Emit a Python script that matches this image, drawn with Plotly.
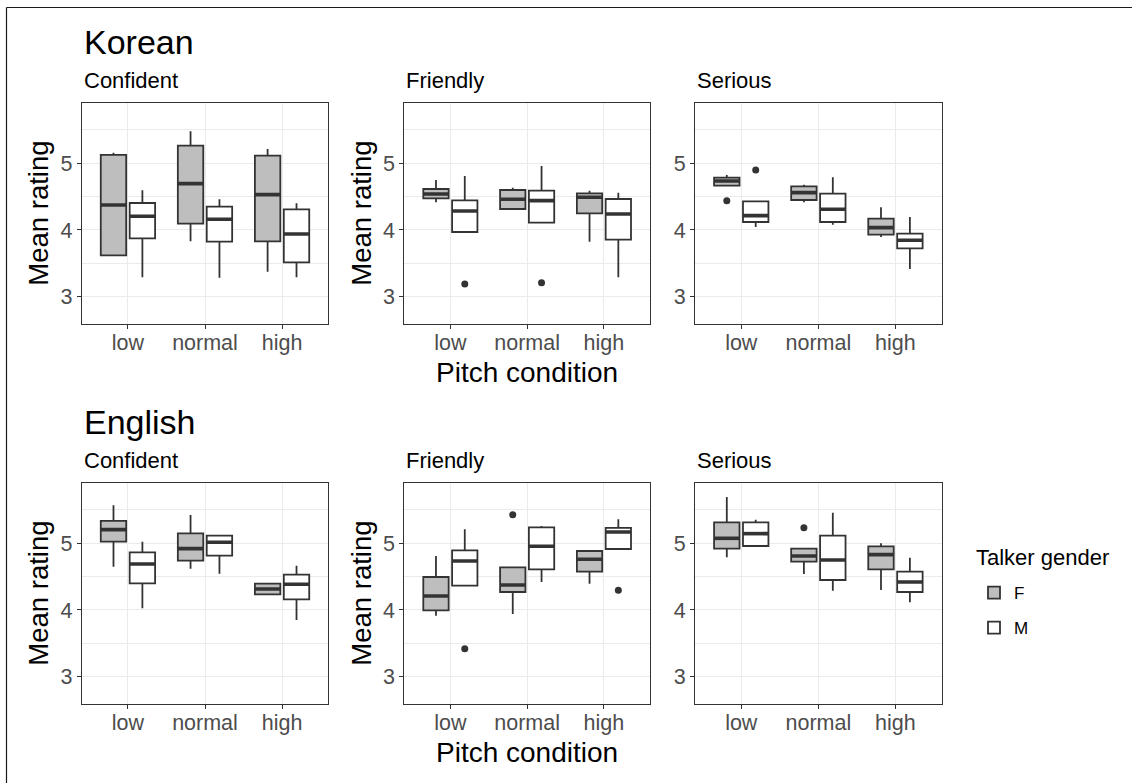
import plotly.graph_objects as go

# ---------------- data ----------------
conditions = ["low", "normal", "high"]
genders = ["F", "M"]
traits = ["Confident", "Friendly", "Serious"]
languages = ["Korean", "English"]

# each entry per condition: (lower whisker, Q1, median, Q3, upper whisker)
korean_confident_F = [(3.62, 3.62, 4.375, 5.125, 5.16), (3.83, 4.095, 4.695, 5.265, 5.48), (3.375, 3.83, 4.53, 5.115, 5.215)]
korean_confident_M = [(3.29, 3.875, 4.205, 4.405, 4.595), (3.285, 3.825, 4.16, 4.35, 4.46), (3.29, 3.515, 3.94, 4.31, 4.40)]
korean_friendly_F = [(4.415, 4.475, 4.54, 4.615, 4.75), (4.315, 4.315, 4.46, 4.60, 4.635), (3.825, 4.25, 4.49, 4.55, 4.59)]
korean_friendly_M = [(3.97, 3.97, 4.285, 4.445, 4.81), (4.11, 4.11, 4.44, 4.59, 4.96), (3.29, 3.855, 4.24, 4.465, 4.56)]
korean_serious_F = [(4.665, 4.665, 4.735, 4.785, 4.825), (4.415, 4.45, 4.56, 4.655, 4.68), (3.895, 3.93, 4.035, 4.17, 4.34)]
korean_serious_M = [(4.045, 4.12, 4.215, 4.43, 4.43), (4.08, 4.12, 4.31, 4.545, 4.79), (3.415, 3.725, 3.845, 3.945, 4.195)]
english_confident_F = [(4.65, 5.025, 5.205, 5.335, 5.57), (4.62, 4.74, 4.92, 5.15, 5.425), (4.235, 4.235, 4.315, 4.395, 4.395)]
english_confident_M = [(4.025, 4.40, 4.69, 4.865, 5.025), (4.545, 4.815, 5.015, 5.115, 5.115), (3.85, 4.16, 4.385, 4.53, 4.665)]
english_friendly_F = [(3.915, 3.995, 4.21, 4.495, 4.81), (3.94, 4.27, 4.375, 4.64, 4.64), (4.395, 4.575, 4.76, 4.885, 4.885)]
english_friendly_M = [(4.365, 4.365, 4.735, 4.895, 5.21), (4.42, 4.61, 4.955, 5.24, 5.26), (4.915, 4.915, 5.17, 5.23, 5.36)]
english_serious_F = [(4.79, 4.92, 5.075, 5.315, 5.695), (4.54, 4.725, 4.81, 4.92, 4.92), (4.30, 4.61, 4.83, 4.955, 5.00)]
english_serious_M = [(4.96, 4.96, 5.145, 5.315, 5.355), (4.29, 4.45, 4.75, 5.115, 5.46), (4.115, 4.27, 4.42, 4.575, 4.785)]

# outliers: (condition, gender, value)
korean_confident_out = []
korean_friendly_out = [("low", "M", 3.19), ("normal", "M", 3.21)]
korean_serious_out = [("low", "F", 4.44), ("low", "M", 4.90)]
english_confident_out = []
english_friendly_out = [("low", "M", 3.42), ("normal", "F", 5.43), ("high", "M", 4.295)]
english_serious_out = [("normal", "F", 5.235)]

y_ticks = [3, 4, 5]
y_minor = [3.5, 4.5, 5.5]

panels = {
    ("Korean", "Confident"): (korean_confident_F, korean_confident_M, korean_confident_out),
    ("Korean", "Friendly"): (korean_friendly_F, korean_friendly_M, korean_friendly_out),
    ("Korean", "Serious"): (korean_serious_F, korean_serious_M, korean_serious_out),
    ("English", "Confident"): (english_confident_F, english_confident_M, english_confident_out),
    ("English", "Friendly"): (english_friendly_F, english_friendly_M, english_friendly_out),
    ("English", "Serious"): (english_serious_F, english_serious_M, english_serious_out),
}

# ---------------- layout / style ----------------
W, H = 1132, 783
FONT = "Liberation Sans, Arial, sans-serif"
LINE = "#333333"
GRID = "#EBEBEB"
TICKC = "#4D4D4D"
FILL = {"F": "#BEBEBE", "M": "#FFFFFF"}
DODGE = 0.1875
BOXW = 0.33

col_px = [(81.7, 328.3), (404.3, 650.0), (695.0, 941.7)]
row_px = [(103.3, 324.0), (483.3, 704.0)]

def px_x(p):
    return p / W

def px_y(p):
    return 1 - p / H

fig = go.Figure()
layout_axes = {}
annotations = []

idx = 0
for r, lang in enumerate(languages):
    for c, trait in enumerate(traits):
        idx += 1
        xa = "x" if idx == 1 else f"x{idx}"
        ya = "y" if idx == 1 else f"y{idx}"
        dataF, dataM, outs = panels[(lang, trait)]
        med_x, med_y = [], []
        for g, data in zip(genders, (dataF, dataM)):
            off = -DODGE if g == "F" else DODGE
            xs = [i + 1 + off for i in range(len(conditions))]
            fig.add_trace(go.Box(
                x=xs,
                lowerfence=[d[0] for d in data],
                q1=[d[1] for d in data],
                median=[d[2] for d in data],
                q3=[d[3] for d in data],
                upperfence=[d[4] for d in data],
                width=BOXW,
                fillcolor=FILL[g],
                line=dict(color=LINE, width=1.8),
                whiskerwidth=0,
                boxpoints=False,
                name=g,
                legendgroup=g,
                showlegend=(idx == 1),
                hoverinfo="skip",
                xaxis=xa, yaxis=ya,
            ))
            for xv, d in zip(xs, data):
                med_x += [xv - BOXW / 2, xv + BOXW / 2, None]
                med_y += [d[2], d[2], None]
        fig.add_trace(go.Scatter(x=med_x, y=med_y, mode="lines",
                                 line=dict(color=LINE, width=3.6),
                                 showlegend=False, hoverinfo="skip",
                                 xaxis=xa, yaxis=ya))
        if outs:
            ox = [conditions.index(cn) + 1 + (-DODGE if g == "F" else DODGE) for cn, g, v in outs]
            oy = [v for cn, g, v in outs]
            fig.add_trace(go.Scatter(x=ox, y=oy, mode="markers",
                                     marker=dict(color=LINE, size=7),
                                     showlegend=False, hoverinfo="skip",
                                     xaxis=xa, yaxis=ya))

        x0, x1 = col_px[c]
        y0, y1 = row_px[r]
        xkey = "xaxis" if idx == 1 else f"xaxis{idx}"
        ykey = "yaxis" if idx == 1 else f"yaxis{idx}"
        layout_axes[xkey] = dict(
            domain=[px_x(x0), px_x(x1)], anchor=ya, range=[0.4, 3.6],
            tickvals=[1, 2, 3], ticktext=conditions,
            ticks="outside", ticklen=4, tickwidth=1, tickcolor=LINE,
            tickfont=dict(size=21.5, color=TICKC, family=FONT),
            ticklabelstandoff=-5,
            showgrid=True, gridcolor=GRID, gridwidth=1, zeroline=False,
            showline=True, mirror=True, linecolor=LINE, linewidth=1,
        )
        layout_axes[ykey] = dict(
            domain=[px_y(y1), px_y(y0)], anchor=xa, range=[2.59, 5.9],
            tickvals=y_ticks, ticks="outside", ticklen=4, tickwidth=1, tickcolor=LINE,
            tickfont=dict(size=21.5, color=TICKC, family=FONT),
            showgrid=True, gridcolor=GRID, gridwidth=1, zeroline=False,
            showline=True, mirror=True, linecolor=LINE, linewidth=1,
            minor=dict(tickvals=y_minor, showgrid=True, gridcolor=GRID, gridwidth=0.6, ticks=""),
        )
        # facet subtitle
        annotations.append(dict(text=trait, x=px_x(x0), y=px_y(y0 - 22.5), xref="paper", yref="paper",
                                xanchor="left", yanchor="middle", showarrow=False,
                                font=dict(size=22, color="#000000", family=FONT)))
        # y-axis title on first two columns
        if c < 2:
            tx = 39 if c == 0 else 362
            annotations.append(dict(text="Mean rating", x=px_x(tx), y=px_y((y0 + y1) / 2),
                                    xref="paper", yref="paper", textangle=-90,
                                    xanchor="center", yanchor="middle", showarrow=False,
                                    font=dict(size=27.5, color="#000000", family=FONT)))
        # x-axis title on middle column
        if c == 1:
            annotations.append(dict(text="Pitch condition", x=px_x((x0 + x1) / 2), y=px_y(y1 + 48.5),
                                    xref="paper", yref="paper", xanchor="center", yanchor="middle",
                                    showarrow=False, font=dict(size=28, color="#000000", family=FONT)))
    # language title
    annotations.append(dict(text=lang, x=px_x(81.7), y=px_y(row_px[r][0] - 61.8), xref="paper", yref="paper",
                            xanchor="left", yanchor="middle", showarrow=False,
                            font=dict(size=34, color="#000000", family=FONT)))

# legend title
annotations.append(dict(text="Talker gender", x=px_x(974), y=px_y(557), xref="paper", yref="paper",
                        xanchor="left", yanchor="middle", showarrow=False,
                        font=dict(size=22, color="#000000", family=FONT)))

shapes = [
    dict(type="line", xref="paper", yref="paper", x0=px_x(6.5), x1=1.0, y0=px_y(7.5), y1=px_y(7.5),
         line=dict(color="#1A1A1A", width=1.2)),
    dict(type="line", xref="paper", yref="paper", x0=px_x(6.5), x1=px_x(6.5), y0=px_y(7.5), y1=0.0,
         line=dict(color="#1A1A1A", width=1.2)),
]

fig.update_layout(
    width=W, height=H, margin=dict(l=0, r=0, t=0, b=0),
    paper_bgcolor="white", plot_bgcolor="white",
    font=dict(family=FONT, color="#000000"),
    annotations=annotations, shapes=shapes,
    legend=dict(
        font=dict(size=17, family=FONT, color="#000000"),
        x=px_x(974), y=px_y(575), xanchor="left", yanchor="top",
        tracegroupgap=10, bgcolor="rgba(0,0,0,0)",
    ),
    **layout_axes,
)

fig.write_html("out.html", config={"displayModeBar": False},
               post_script="document.body.style.margin='0';document.body.style.overflow='hidden';")
